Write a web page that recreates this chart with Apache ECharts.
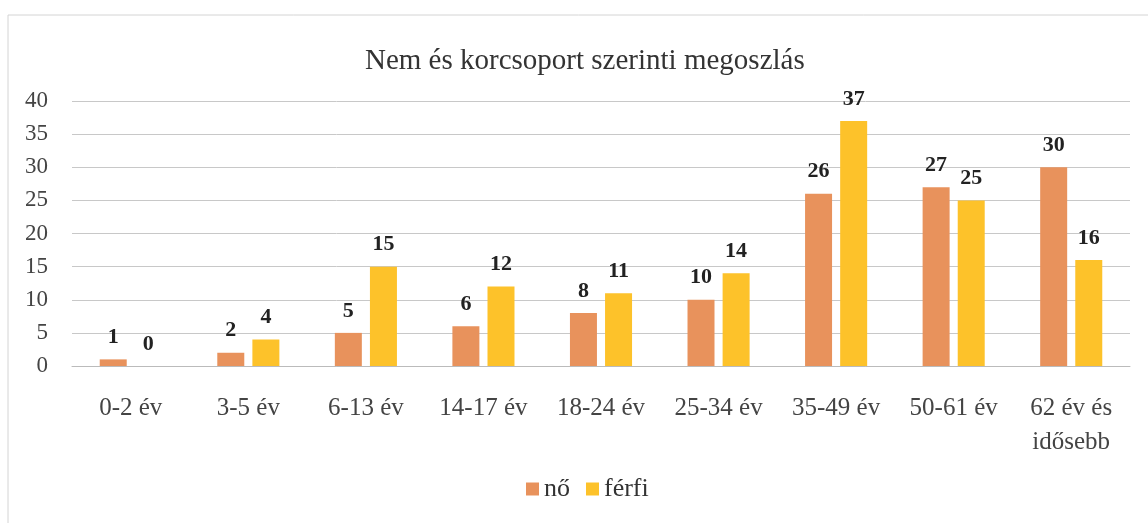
<!DOCTYPE html>
<html>
<head>
<meta charset="utf-8">
<script src="https://cdn.jsdelivr.net/npm/echarts@6/dist/echarts.min.js"></script>
<style>
  html, body { margin: 0; padding: 0; background: #fff; }
  #chart { width: 1148px; height: 523px; }
</style>
</head>
<body>
<div id="chart"></div>
<script>
const categories = ['0-2 év', '3-5 év', '6-13 év', '14-17 év', '18-24 év', '25-34 év', '35-49 év', '50-61 év', '62 év és\nidősebb'];
const noValues = [1, 2, 5, 6, 8, 10, 26, 27, 30];
const ferfiValues = [0, 4, 15, 12, 11, 14, 37, 25, 16];
const yTicks = [0, 5, 10, 15, 20, 25, 30, 35, 40];

const serif = '"Liberation Serif", "DejaVu Serif", serif';
const myChart = echarts.init(document.getElementById('chart'));

const labelStyle = {
  show: true,
  position: 'top',
  distance: 11,
  fontFamily: serif,
  fontSize: 22,
  fontWeight: 'bold',
  color: '#222',
};

const option = {
  animation: false,
  backgroundColor: '#fff',
  graphic: [
    {
      type: 'rect',
      shape: { x: 8, y: 15, width: 1150, height: 520 },
      style: { fill: 'none', stroke: '#d4d4d4', lineWidth: 1 },
    },
  ],
  title: {
    text: 'Nem és korcsoport szerinti megoszlás',
    left: 360,
    top: 42,
    textStyle: {
      fontFamily: serif,
      fontWeight: 'normal',
      fontSize: 29,
      color: '#333',
    },
  },
  legend: {
    bottom: 16,
    left: 521,
    itemWidth: 13,
    itemHeight: 13,
    itemGap: 16,
    icon: 'rect',
    textStyle: { fontFamily: serif, fontSize: 26, color: '#333' },
    data: ['nő', 'férfi'],
  },
  grid: {
    left: 72,
    right: 18,
    top: 101,
    bottom: 157,
  },
  xAxis: {
    type: 'category',
    data: categories,
    axisTick: { show: false },
    axisLine: { lineStyle: { color: '#bbb' } },
    axisLabel: {
      fontFamily: serif,
      fontSize: 25,
      color: '#444',
      margin: 25,
      lineHeight: 34,
    },
  },
  yAxis: {
    type: 'value',
    min: yTicks[0],
    max: yTicks[yTicks.length - 1],
    interval: 5,
    axisLine: { show: false },
    axisTick: { show: false },
    splitLine: { lineStyle: { color: '#c8c8c8', width: 1 } },
    axisLabel: {
      fontFamily: serif,
      fontSize: 23,
      color: '#444',
      margin: 24,
    },
  },
  series: [
    {
      name: 'nő',
      type: 'bar',
      data: noValues,
      barWidth: 27,
      barGap: '30%',
      itemStyle: { color: '#E8925C' },
      label: labelStyle,
    },
    {
      name: 'férfi',
      type: 'bar',
      data: ferfiValues,
      barWidth: 27,
      itemStyle: { color: '#FDC22A' },
      label: labelStyle,
    },
  ],
};
myChart.setOption(option, true);
</script>
</body>
</html>
